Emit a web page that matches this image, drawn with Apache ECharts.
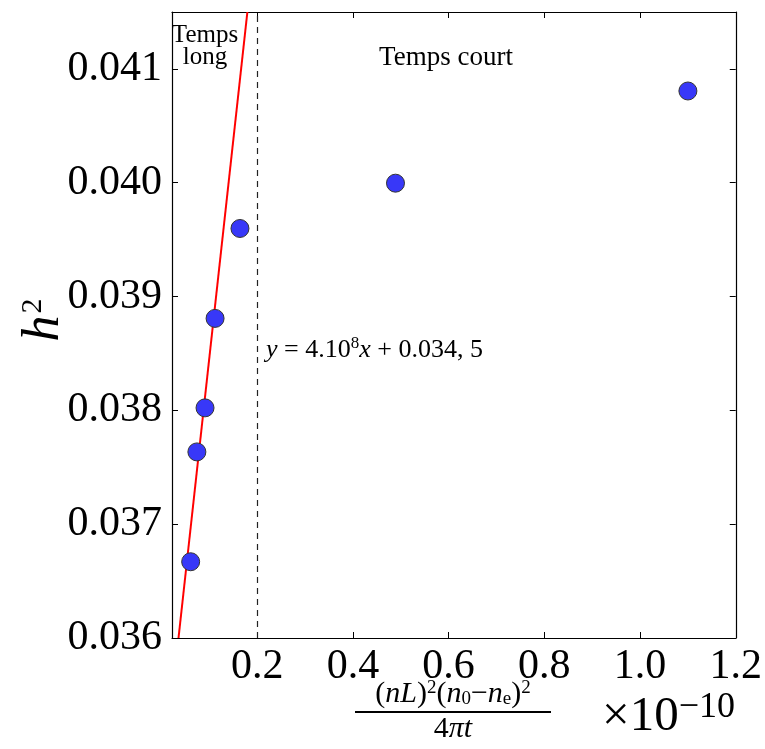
<!DOCTYPE html>
<html>
<head>
<meta charset="utf-8">
<script src="https://cdn.jsdelivr.net/npm/echarts@6/dist/echarts.min.js"></script>
<style>
  html, body { margin: 0; padding: 0; background: #fff; }
  #main { width: 765px; height: 749px; }
</style>
</head>
<body>
<div id="main"></div>
<script>
// measured points (x in units of 1e-10)
const xValues = [0.061, 0.074, 0.091, 0.112, 0.164, 0.489, 1.100];
const yValues = [0.03667, 0.037635, 0.038022, 0.038808, 0.039598, 0.039996, 0.040806];
// fitted line y = 4.10^8 x + 0.0345 (as drawn)
const fitX = [0.0356, 0.1795];
const fitY = [0.036, 0.0415];
const xTicks = [0.2, 0.4, 0.6, 0.8, 1.0, 1.2];
const yTicks = [0.036, 0.037, 0.038, 0.039, 0.040, 0.041];
const separatorX = 0.202;

const serif = "'Liberation Serif', 'DejaVu Serif', serif";

let points = xValues.map((x, i) => [x, yValues[i]]);
let fitLine = fitX.map((x, i) => [x, fitY[i]]);

let myChart = echarts.init(document.getElementById('main'));

// ticks inside on all four sides, like the original
let axisCommon = {
    axisLine: { show: true, lineStyle: { color: '#000', width: 1.2 } },
    splitLine: { show: false },
    axisTick: { show: true, inside: true, length: 6, lineStyle: { color: '#000', width: 1 } }
};

let option = {
    animation: false,
    grid: { left: 172, right: 29, top: 12, bottom: 111 },
    xAxis: [
        Object.assign({}, axisCommon, {
            type: 'value', min: 0.022, max: 1.2,
            axisTick: Object.assign({}, axisCommon.axisTick, { customValues: xTicks }),
            axisLabel: {
                customValues: xTicks, margin: 8,
                fontFamily: serif, fontSize: 42, color: '#000',
                formatter: v => v.toFixed(1)
            }
        }),
        Object.assign({}, axisCommon, {
            type: 'value', min: 0.022, max: 1.2, position: 'top',
            axisTick: Object.assign({}, axisCommon.axisTick, { customValues: xTicks }),
            axisLabel: { show: false }
        })
    ],
    yAxis: [
        Object.assign({}, axisCommon, {
            type: 'value', min: 0.036, max: 0.0415,
            axisTick: Object.assign({}, axisCommon.axisTick, { customValues: yTicks }),
            axisLabel: {
                customValues: yTicks, margin: 10,
                fontFamily: serif, fontSize: 42, color: '#000',
                formatter: v => v.toFixed(3)
            }
        }),
        Object.assign({}, axisCommon, {
            type: 'value', min: 0.036, max: 0.0415, position: 'right',
            axisTick: Object.assign({}, axisCommon.axisTick, { customValues: yTicks }),
            axisLabel: { show: false }
        })
    ],
    series: [
        {
            name: 'fit',
            type: 'line',
            data: fitLine,
            symbol: 'none',
            clip: true,
            lineStyle: { color: '#ff0000', width: 2 },
            markLine: {
                silent: true,
                symbol: 'none',
                label: { show: false },
                lineStyle: { color: '#222', type: [6, 5], width: 1.2 },
                data: [{ xAxis: separatorX }]
            }
        },
        {
            name: 'data',
            type: 'scatter',
            data: points,
            symbolSize: 18,
            z: 5,
            itemStyle: { color: '#3838f8', opacity: 1, borderColor: '#333', borderWidth: 1 }
        }
    ],
    graphic: [
        {
            type: 'text', style: {
                x: 205, y: 46, text: 'Temps\nlong', align: 'center', verticalAlign: 'middle',
                font: '25px ' + serif, fill: '#000', lineHeight: 22
            }
        },
        {
            type: 'text', style: {
                x: 446, y: 58, text: 'Temps court', align: 'center', verticalAlign: 'middle',
                font: '27px ' + serif, fill: '#000'
            }
        },
        {
            type: 'text', style: {
                x: 266, y: 350, verticalAlign: 'middle', fill: '#000',
                text: '{i|y} = 4.10{s|8}{i|x} + 0.034, 5',
                font: '26px ' + serif,
                rich: {
                    i: { fontStyle: 'italic', fontSize: 26, fontFamily: serif },
                    s: { fontSize: 17, fontFamily: serif, verticalAlign: 'top', padding: [0, 0, 12, 0] }
                }
            }
        },
        {
            type: 'text', rotation: Math.PI / 2, x: 44, y: 320, style: {
                x: 0, y: 0, align: 'center', verticalAlign: 'middle', fill: '#000',
                text: '{i|h}{s|2}',
                rich: {
                    i: { fontStyle: 'italic', fontSize: 52, fontFamily: serif },
                    s: { fontSize: 30, fontFamily: serif, verticalAlign: 'top', padding: [0, 0, 22, 2] }
                }
            }
        },
        {
            type: 'text', style: {
                x: 453, y: 709, align: 'center', verticalAlign: 'bottom', fill: '#000',
                text: '({i|nL}){s|2}({i|n}{b|0}−{i|n}{b|e}){s|2}',
                font: '30px ' + serif,
                rich: {
                    i: { fontStyle: 'italic', fontSize: 30, fontFamily: serif },
                    s: { fontSize: 19, fontFamily: serif, verticalAlign: 'top', padding: [0, 0, 10, 0] },
                    b: { fontSize: 19, fontFamily: serif, verticalAlign: 'bottom', padding: [10, 0, 0, 0] }
                }
            }
        },
        {
            type: 'line', shape: { x1: 355, y1: 712, x2: 551, y2: 712 },
            style: { stroke: '#000', lineWidth: 2 }
        },
        {
            type: 'text', style: {
                x: 453, y: 714, align: 'center', verticalAlign: 'top', fill: '#000',
                text: '4{i|πt}',
                font: '30px ' + serif,
                rich: { i: { fontStyle: 'italic', fontSize: 30, fontFamily: serif } }
            }
        },
        {
            type: 'text', style: {
                x: 735, y: 744, align: 'right', verticalAlign: 'bottom', fill: '#000',
                text: '×10{s|−10}',
                font: '49px ' + serif,
                rich: { s: { fontSize: 36, fontFamily: serif, verticalAlign: 'top', padding: [0, 0, 18, 0] } }
            }
        }
    ]
};
myChart.setOption(option);
</script>
</body>
</html>
